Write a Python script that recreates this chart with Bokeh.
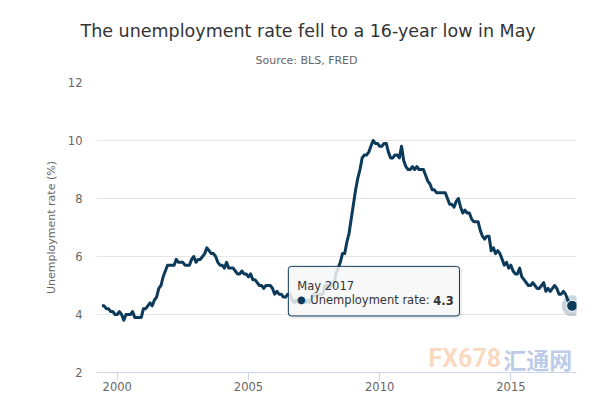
import pandas as pd
from bokeh.plotting import figure
from bokeh.models import Title, Label, BoxAnnotation, FixedTicker, Range1d, ColumnDataSource
from bokeh.embed import file_html
from bokeh.resources import INLINE

# ---------------- data ----------------
title_text = "The unemployment rate fell to a 16-year low in May"
subtitle_text = "Source: BLS, FRED"
y_axis_title = "Unemployment rate (%)"
series_name = "Unemployment rate"

start_month = "1999-06"
unemployment_rate = [
    4.3, 4.3, 4.2, 4.2, 4.1, 4.1, 4.0,                                # 1999 Jun-Dec
    4.0, 4.1, 4.0, 3.8, 4.0, 4.0, 4.0, 4.1, 3.9, 3.9, 3.9, 3.9,       # 2000
    4.2, 4.2, 4.3, 4.4, 4.3, 4.5, 4.6, 4.9, 5.0, 5.3, 5.5, 5.7,       # 2001
    5.7, 5.7, 5.7, 5.9, 5.8, 5.8, 5.8, 5.7, 5.7, 5.7, 5.9, 6.0,       # 2002
    5.8, 5.9, 5.9, 6.0, 6.1, 6.3, 6.2, 6.1, 6.1, 6.0, 5.8, 5.7,       # 2003
    5.7, 5.6, 5.8, 5.6, 5.6, 5.6, 5.5, 5.4, 5.4, 5.5, 5.4, 5.4,       # 2004
    5.3, 5.4, 5.2, 5.2, 5.1, 5.0, 5.0, 4.9, 5.0, 5.0, 5.0, 4.9,       # 2005
    4.7, 4.8, 4.7, 4.7, 4.6, 4.6, 4.7, 4.7, 4.5, 4.4, 4.5, 4.4,       # 2006
    4.6, 4.5, 4.4, 4.5, 4.4, 4.6, 4.7, 4.6, 4.7, 4.7, 4.7, 5.0,       # 2007
    5.0, 4.9, 5.1, 5.0, 5.4, 5.6, 5.8, 6.1, 6.1, 6.5, 6.8, 7.3,       # 2008
    7.8, 8.3, 8.7, 9.0, 9.4, 9.5, 9.5, 9.6, 9.8, 10.0, 9.9, 9.9,      # 2009
    9.8, 9.8, 9.9, 9.9, 9.6, 9.4, 9.4, 9.5, 9.5, 9.4, 9.8, 9.3,       # 2010
    9.1, 9.0, 9.0, 9.1, 9.0, 9.1, 9.0, 9.0, 9.0, 8.8, 8.6, 8.5,       # 2011
    8.3, 8.3, 8.2, 8.2, 8.2, 8.2, 8.2, 8.0, 7.8, 7.8, 7.7, 7.9,       # 2012
    8.0, 7.7, 7.5, 7.6, 7.5, 7.5, 7.3, 7.2, 7.2, 7.2, 6.9, 6.7,       # 2013
    6.6, 6.7, 6.7, 6.2, 6.3, 6.1, 6.2, 6.1, 5.9, 5.7, 5.8, 5.6,       # 2014
    5.7, 5.5, 5.4, 5.4, 5.6, 5.3, 5.2, 5.1, 5.0, 5.0, 5.1, 5.0,       # 2015
    4.9, 4.9, 5.0, 5.1, 4.8, 4.9, 4.8, 4.9, 5.0, 4.9, 4.7, 4.7,       # 2016
    4.8, 4.7, 4.5, 4.4, 4.3,                                          # 2017 Jan-May
]
x_ticks = [2000, 2005, 2010, 2015]
y_ticks = [2, 4, 6, 8, 10, 12]

# ---------------- derived ----------------
periods = pd.period_range(start_month, periods=len(unemployment_rate), freq="M")
x_years = [p.year + (p.month - 1) / 12 for p in periods]
src = ColumnDataSource(dict(x=x_years, y=unemployment_rate))
last_x, last_y = x_years[-1], unemployment_rate[-1]
last_label = periods[-1].strftime("%B %Y")

NAVY = "#0c3a5b"
FONT = "DejaVu Sans"

p = figure(width=608, height=394, output_backend="svg", toolbar_location=None,
           title=None, x_range=Range1d(1999.21, 2017.5), y_range=Range1d(2, 12),
           min_border_left=96, min_border_right=32, min_border_top=82, min_border_bottom=22)
p.outline_line_color = None
p.background_fill_color = "white"
p.border_fill_color = "white"

# titles
sub = Title(text=subtitle_text, align="left", offset=159, vertical_align="middle", standoff=30,
            text_font=FONT, text_font_size="11px", text_font_style="normal", text_color="#666666")
p.add_layout(sub, "above")
ttl = Title(text=title_text, align="left", offset=-16, vertical_align="middle", standoff=-9,
            text_font=FONT, text_font_size="17.5px", text_font_style="normal", text_color="#333333")
p.add_layout(ttl, "above")

# axes
p.xgrid.grid_line_color = None
p.ygrid.grid_line_color = "#e6e6e6"
p.ygrid.ticker = FixedTicker(ticks=y_ticks)

xa = p.xaxis[0]
xa.ticker = FixedTicker(ticks=x_ticks)
xa.axis_line_color = "#ccd6eb"
xa.major_tick_line_color = "#ccd6eb"
xa.major_tick_out = 8
xa.major_tick_in = 0
xa.minor_tick_line_color = None
xa.major_label_standoff = 1
xa.major_label_text_font = FONT
xa.major_label_text_font_size = "11.5px"
xa.major_label_text_color = "#666666"

ya = p.yaxis[0]
ya.ticker = FixedTicker(ticks=y_ticks)
ya.axis_line_color = None
ya.major_tick_line_color = None
ya.minor_tick_line_color = None
ya.major_tick_out = 0
ya.major_tick_in = 0
ya.major_label_standoff = 14
ya.major_label_text_font = FONT
ya.major_label_text_font_size = "11.5px"
ya.major_label_text_color = "#666666"
ya.axis_label = y_axis_title
ya.axis_label_text_font = FONT
ya.axis_label_text_font_size = "11px"
ya.axis_label_text_font_style = "normal"
ya.axis_label_text_color = "#666666"
ya.axis_label_standoff = 7

# series
p.line("x", "y", source=src, line_color=NAVY, line_width=3, line_join="round")
p.scatter([last_x], [last_y], size=21, fill_color=NAVY, fill_alpha=0.22, line_color=None)
p.scatter([last_x], [last_y], size=11, fill_color=NAVY, line_color="white", line_width=1)

# watermark
p.add_layout(Label(x=2011.86, y=2.47, text="FX678", text_baseline="middle", text_font="Roboto",
                   text_font_size="25px", text_font_style="bold", text_color="#f6b98a", text_alpha=0.55))
p.add_layout(Label(x=2014.71, y=2.47, text="汇通网", text_baseline="middle", text_font="Noto Sans CJK SC",
                   text_font_size="23px", text_font_style="bold", text_color="#8fa9d8", text_alpha=0.6))

# tooltip (with a soft shadow)
box_l, box_r, box_t, box_b = 2006.52, 2013.04, 5.66, 3.95
p.add_layout(BoxAnnotation(left=box_l + 0.04, right=box_r + 0.04, top=box_t - 0.035, bottom=box_b - 0.035,
                           fill_alpha=0, line_color="black", line_alpha=0.08, line_width=3,
                           border_radius=3))
p.add_layout(BoxAnnotation(left=box_l, right=box_r, top=box_t, bottom=box_b,
                           fill_color="#f7f7f7", fill_alpha=0.85, line_color=NAVY, line_alpha=1.0,
                           line_width=1, border_radius=3))
p.add_layout(Label(x=box_l, y=box_t, x_offset=9, y_offset=-20, text=last_label,
                   text_baseline="alphabetic", text_font=FONT, text_font_size="11.5px", text_color="#333333"))
p.add_layout(Label(x=box_l, y=box_t, x_offset=13, y_offset=-33, text="●", text_align="center",
                   text_baseline="alphabetic", text_font=FONT, text_font_size="10px", text_color=NAVY))
p.add_layout(Label(x=box_l, y=box_t, x_offset=22, y_offset=-34, text=series_name + ":",
                   text_baseline="alphabetic", text_font=FONT, text_font_size="11.5px", text_color="#333333"))
p.add_layout(Label(x=box_l, y=box_t, x_offset=145, y_offset=-34, text=f"{last_y}",
                   text_baseline="alphabetic", text_font=FONT, text_font_size="11.5px", text_font_style="bold",
                   text_color="#333333"))

open("out.html", "w").write(file_html(p, INLINE))
